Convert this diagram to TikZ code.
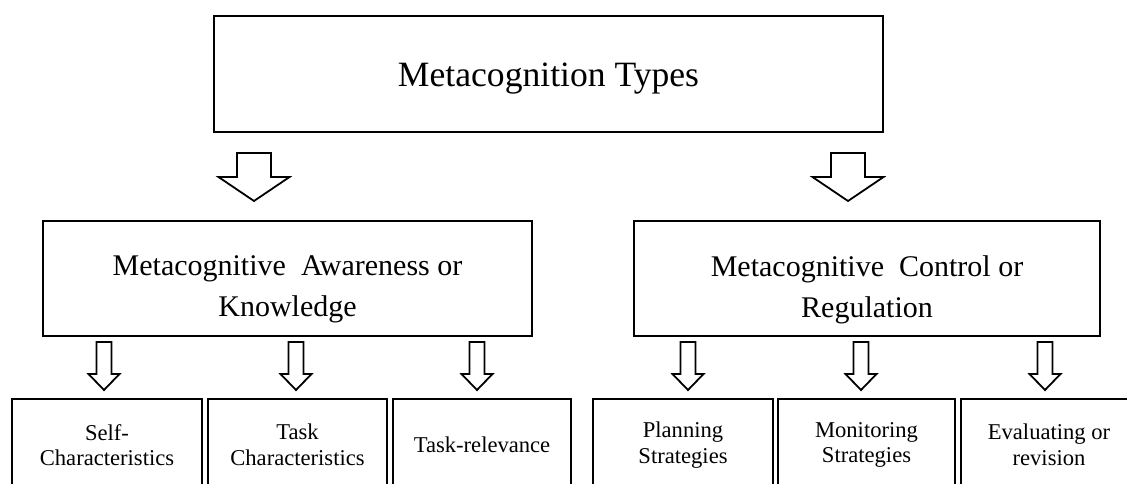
\documentclass[tikz,border=0pt]{standalone}
\usepackage{fontspec}
\setmainfont{Liberation Serif}

\tikzset{
  box/.style={draw, line width=1pt, inner sep=0pt, align=center},
  topbox/.style={box, minimum width=334.5pt, minimum height=58pt},
  toptext/.style={font=\fontsize{17.8}{20}\selectfont, yshift=-2.5pt},
  midbox/.style={box, minimum height=57.5pt},
  midtext/.style={align=center, font=\fontsize{15}{20.5}\selectfont, yshift=-5.5pt},
  leafbox/.style={box, minimum height=46pt,
    font=\fontsize{11.3}{12.8}\selectfont},
  blockarrow/.style={draw, line width=0.9pt, line join=miter},
  % tip at the origin, pointing down (y grows downwards)
  bigarrow/.pic={
    \draw[blockarrow] (0,0) -- (-35.5,-24) -- (-17,-24) -- (-17,-48)
      -- (17,-48) -- (17,-24) -- (35.5,-24) -- cycle;
  },
  smallarrow/.pic={
    \draw[blockarrow] (0,0) -- (-15.5,-16) -- (-7.5,-16) -- (-7.5,-48)
      -- (7.5,-48) -- (7.5,-16) -- (15.5,-16) -- cycle;
  }
}

\begin{document}
\begin{tikzpicture}[x=0.5pt,y=-0.5pt]
  \useasboundingbox (0,0) rectangle (1127,483);
  \clip (0,0) rectangle (1127,483);

  % top level
  \node[topbox] (mt) at (548.5,74)
    [label={[toptext]center:Metacognition Types}] {};

  % second level
  \node[midbox, minimum width=244.5pt] (ak) at (287.5,278.5)
    [label={[midtext]center:Metacognitive~ Awareness or\\Knowledge}] {};
  \node[midbox, minimum width=233pt] (cr) at (867,278.5)
    [label={[midtext]center:Metacognitive~ Control or\\Regulation}] {};

  \pic (akin) at (254,201) {bigarrow};
  \pic (crin) at (848,201) {bigarrow};

  % third level
  \node[leafbox, minimum width=95pt] (sc) at (107,445) {Self-\\Characteristics};
  \node[leafbox, minimum width=89.5pt] (tc) at (297.5,445) {Task\\Characteristics};
  \node[leafbox, minimum width=89pt] (tr) at (482,445) {Task-relevance};
  \node[leafbox, minimum width=90pt] (ps) at (683,445) {Planning\\Strategies};
  \node[leafbox, minimum width=88.5pt] (ms) at (866.5,445) {Monitoring\\Strategies};
  \node[leafbox, minimum width=88pt] (er) at (1049,445) {Evaluating or\\revision};

  \pic (scin) at (104,390) {smallarrow};
  \pic (tcin) at (296,390) {smallarrow};
  \pic (trin) at (477,390) {smallarrow};
  \pic (psin) at (688,390) {smallarrow};
  \pic (msin) at (861,390) {smallarrow};
  \pic (erin) at (1045,390) {smallarrow};
\end{tikzpicture}
\end{document}
